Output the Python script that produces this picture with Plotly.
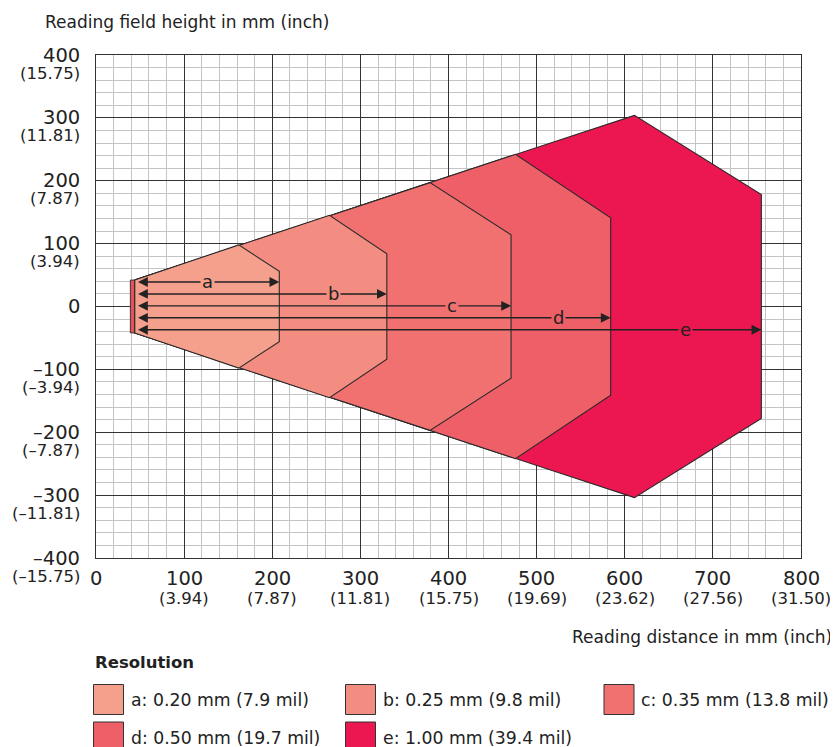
import plotly.graph_objects as go

# ---- data ----
labels = ["a", "b", "c", "d", "e"]
legend_text = ["a: 0.20 mm (7.9 mil)", "b: 0.25 mm (9.8 mil)", "c: 0.35 mm (13.8 mil)",
               "d: 0.50 mm (19.7 mil)", "e: 1.00 mm (39.4 mil)"]
colors = ["#F5A08D", "#F48D81", "#F07170", "#EE5F67", "#EC1651"]
start_x = [44, 44, 44, 44, 44]
start_half = [42, 42, 42, 42, 42]
top_x = [162, 265, 379, 476, 611]
top_y = [98, 145, 197, 242, 304]
right_x = [208, 330, 471, 584, 755]
right_y = [56, 84, 114, 141, 178]
arrow_y = [39, 20, 1, -18, -37]
arrow_start = 46
label_x = [126, 269, 404, 525, 669]
strip_x = [39, 44]
strip_half = 42
strip_color = "#E8505C"

x_ticks = [0, 100, 200, 300, 400, 500, 600, 700, 800]
x_sub = ["", "(3.94)", "(7.87)", "(11.81)", "(15.75)", "(19.69)", "(23.62)", "(27.56)", "(31.50)"]
y_ticks = [400, 300, 200, 100, 0, -100, -200, -300, -400]
y_main = ["400", "300", "200", "100", "0", "–100", "–200", "–300", "–400"]
y_sub = ["(15.75)", "(11.81)", "(7.87)", "(3.94)", "", "(–3.94)", "(–7.87)", "(–11.81)", "(–15.75)"]

FONT = "DejaVu Sans, Verdana, sans-serif"
TXT = "#222222"

fig = go.Figure()

# strip at the start
fig.add_trace(go.Scatter(
    x=[strip_x[0], strip_x[1], strip_x[1], strip_x[0], strip_x[0]],
    y=[-strip_half, -strip_half, strip_half, strip_half, -strip_half],
    fill="toself", fillcolor=strip_color, mode="lines",
    line=dict(color="#333333", width=1), hoverinfo="skip", showlegend=False))

# polygons, largest first
for i in reversed(range(len(labels))):
    xs = [start_x[i], top_x[i], right_x[i], right_x[i], top_x[i], start_x[i], start_x[i]]
    ys = [start_half[i], top_y[i], right_y[i], -right_y[i], -top_y[i], -start_half[i], start_half[i]]
    fig.add_trace(go.Scatter(x=xs, y=ys, fill="toself", fillcolor=colors[i], mode="lines",
                             line=dict(color="#2a2a2a", width=1.1), hoverinfo="skip",
                             showlegend=False, name=labels[i]))

annotations = []
# arrows
for i in range(len(labels)):
    annotations.append(dict(x=right_x[i], y=arrow_y[i], ax=arrow_start, ay=arrow_y[i],
                            xref="x", yref="y", axref="x", ayref="y", text="",
                            showarrow=True, arrowside="end+start", arrowhead=2, startarrowhead=2,
                            arrowsize=1.4, startarrowsize=1.4, arrowwidth=1.4,
                            arrowcolor="#222222", standoff=0, startstandoff=0))
    annotations.append(dict(x=label_x[i], y=arrow_y[i], xref="x", yref="y", text=labels[i],
                            showarrow=False, bgcolor=colors[i], borderpad=1,
                            font=dict(family=FONT, size=18, color=TXT)))

# y tick labels
for v, m, s in zip(y_ticks, y_main, y_sub):
    annotations.append(dict(x=0, y=v, xref="paper", yref="y", text=m, showarrow=False,
                            xanchor="right", yanchor="middle", xshift=-15, yshift=0, borderpad=0,
                            font=dict(family=FONT, size=19.5, color=TXT)))
    if s:
        annotations.append(dict(x=0, y=v, xref="paper", yref="y", text=s, showarrow=False,
                                xanchor="right", yanchor="middle", xshift=-15, yshift=-18, borderpad=0,
                                font=dict(family=FONT, size=16.5, color=TXT)))
# x tick labels
for v, s in zip(x_ticks, x_sub):
    annotations.append(dict(x=v, y=0, xref="x", yref="paper", text=str(v), showarrow=False,
                            xanchor="center", yanchor="middle", yshift=-20, borderpad=0,
                            font=dict(family=FONT, size=19.5, color=TXT)))
    if s:
        annotations.append(dict(x=v, y=0, xref="x", yref="paper", text=s, showarrow=False,
                                xanchor="center", yanchor="middle", yshift=-40, borderpad=0,
                                font=dict(family=FONT, size=16.5, color=TXT)))

# axis titles
annotations.append(dict(x=0, y=1, xref="paper", yref="paper", text="Reading field height in mm (inch)",
                        showarrow=False, xanchor="left", yanchor="middle", xshift=-53, yshift=33,
                        font=dict(family=FONT, size=17, color=TXT)))
annotations.append(dict(x=1, y=0, xref="paper", yref="paper", text="Reading distance in mm (inch)",
                        showarrow=False, xanchor="right", yanchor="middle", xshift=33, yshift=-79,
                        font=dict(family=FONT, size=17, color=TXT)))

# legend (positions in page pixels, converted to paper coords of the plot area)
W, H = 705.0, 503.0
PL, PB = 96.0, 558.0
def px(xp):
    return (xp - PL) / W
def py(yp):
    return (PB - yp) / H

annotations.append(dict(x=px(93), y=py(662), xref="paper", yref="paper", text="<b>Resolution</b>",
                        showarrow=False, xanchor="left", yanchor="middle",
                        font=dict(family=FONT, size=16.5, color=TXT)))
col_x = [93.5, 345.5, 604]
row_y = [684.5, 722]
shapes = []
for i in range(len(labels)):
    cx = col_x[i % 3]
    ry = row_y[i // 3]
    shapes.append(dict(type="rect", xref="paper", yref="paper",
                       x0=px(cx), x1=px(cx + 30), y0=py(ry + 30), y1=py(ry),
                       fillcolor=colors[i], line=dict(color="#333333", width=1)))
    annotations.append(dict(x=px(cx + 35), y=py(ry + 15.5), xref="paper", yref="paper",
                            text=legend_text[i], showarrow=False, xanchor="left", yanchor="middle",
                            font=dict(family=FONT, size=17.3, color=TXT)))

fig.update_layout(
    width=830, height=739,
    margin=dict(l=88, r=37, t=47, b=189),
    paper_bgcolor="white", plot_bgcolor="white",
    showlegend=False,
    annotations=annotations,
    shapes=shapes,
    xaxis=dict(range=[0, 800], dtick=100, tick0=0, showticklabels=False, ticks="",
               showgrid=True, gridcolor="#333333", gridwidth=1,
               minor=dict(dtick=20, showgrid=True, gridcolor="#c4c4c4", gridwidth=1.3),
               showline=True, linecolor="#333333", linewidth=1.3, mirror=True,
               zeroline=False, fixedrange=True),
    yaxis=dict(range=[-400, 400], dtick=100, tick0=0, showticklabels=False, ticks="",
               showgrid=True, gridcolor="#333333", gridwidth=1,
               minor=dict(dtick=20, showgrid=True, gridcolor="#c4c4c4", gridwidth=1.3),
               showline=True, linecolor="#333333", linewidth=1.3, mirror=True,
               zeroline=False, fixedrange=True),
)

fig.write_html("out.html")
